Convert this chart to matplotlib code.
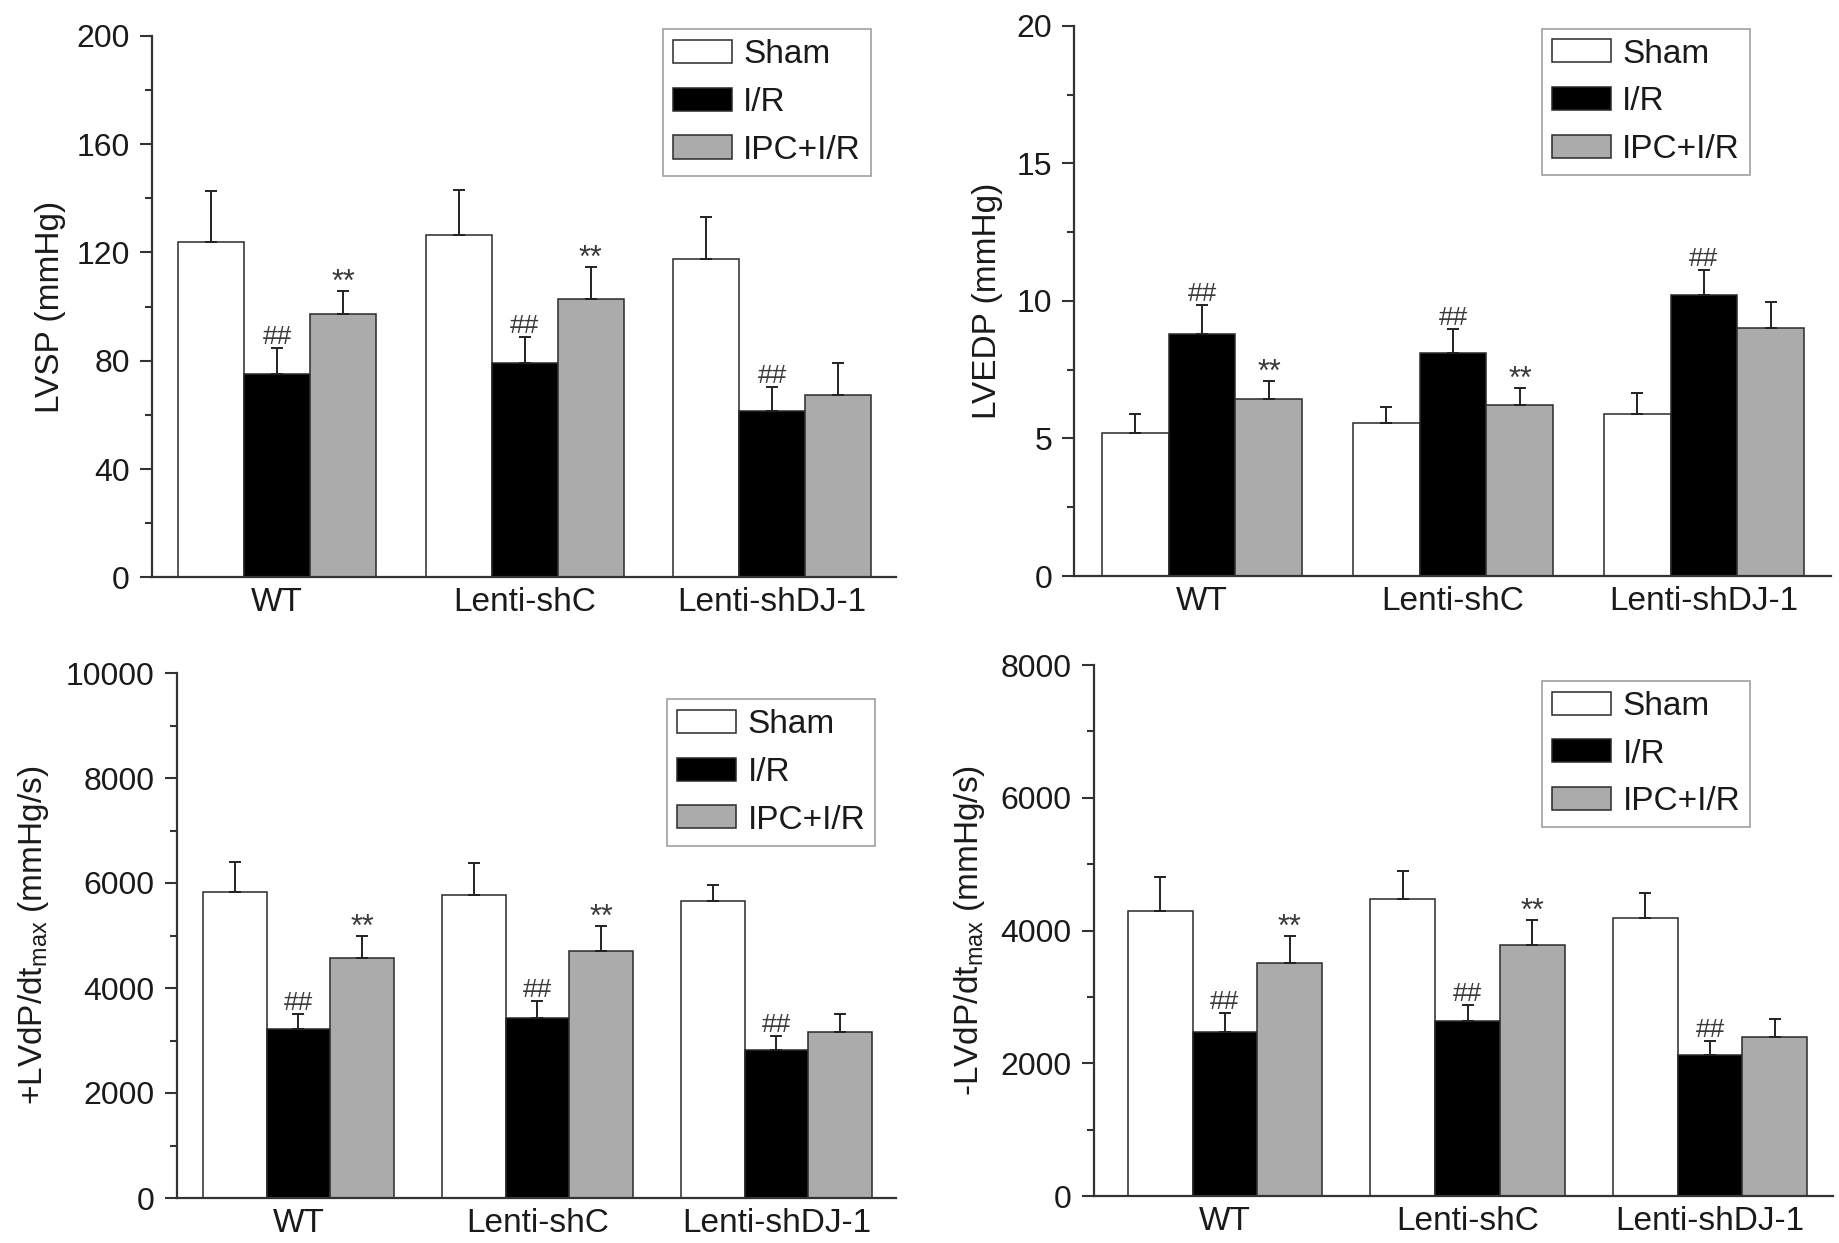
import numpy as np
import matplotlib
matplotlib.use("Agg")
import matplotlib.pyplot as plt
from matplotlib.ticker import MultipleLocator

plt.rcParams['font.family'] = ['Liberation Sans', 'DejaVu Sans']
plt.rcParams['mathtext.fontset'] = 'custom'
plt.rcParams['mathtext.rm'] = 'Liberation Sans'
plt.rcParams['mathtext.it'] = 'Liberation Sans:italic'

groups = ['WT', 'Lenti-shC', 'Lenti-shDJ-1']
series = ['Sham', 'I/R', 'IPC+I/R']

lvsp_sham = [123.7, 126.5, 117.7]
lvsp_ir = [75.0, 79.2, 61.3]
lvsp_ipc = [97.3, 102.9, 67.2]
lvsp_sham_err = [19.1, 16.6, 15.4]
lvsp_ir_err = [9.8, 9.7, 9.1]
lvsp_ipc_err = [8.5, 11.6, 12.0]

lvedp_sham = [5.20, 5.56, 5.88]
lvedp_ir = [8.81, 8.12, 10.22]
lvedp_ipc = [6.43, 6.21, 9.03]
lvedp_sham_err = [0.68, 0.58, 0.76]
lvedp_ir_err = [1.05, 0.86, 0.90]
lvedp_ipc_err = [0.65, 0.61, 0.93]

plus_sham = [5822, 5776, 5654]
plus_ir = [3219, 3425, 2816]
plus_ipc = [4574, 4711, 3166]
plus_sham_err = [571, 601, 313]
plus_ir_err = [282, 319, 266]
plus_ipc_err = [426, 479, 342]

minus_sham = [4301, 4475, 4192]
minus_ir = [2478, 2641, 2123]
minus_ipc = [3507, 3777, 2400]
minus_sham_err = [511, 427, 379]
minus_ir_err = [277, 240, 217]
minus_ipc_err = [415, 379, 271]

# significance marks: '##' over I/R, '**' over IPC+I/R
lvsp_hash = [True, True, True]
lvsp_star = [True, True, False]
lvedp_hash = [True, True, True]
lvedp_star = [True, True, False]
plus_hash = [True, True, True]
plus_star = [True, True, False]
minus_hash = [True, True, True]
minus_star = [True, True, False]

ylabels = ['LVSP (mmHg)', 'LVEDP (mmHg)',
           r'+LVdP/dt$_{\mathrm{max}}$ (mmHg/s)',
           r'-LVdP/dt$_{\mathrm{max}}$ (mmHg/s)']

W, H = 1840, 1243
fig = plt.figure(figsize=(W / 100, H / 100), dpi=100)

def px_axes(left, top, right, bottom):
    return fig.add_axes([left / W, 1 - bottom / H, (right - left) / W, (bottom - top) / H])

colors = ['white', 'black', '#ababab']
edge = '#2a2a2a'

panels = [
    dict(box=(152, 35.8, 896, 577.5),
         data=(lvsp_sham, lvsp_ir, lvsp_ipc), err=(lvsp_sham_err, lvsp_ir_err, lvsp_ipc_err),
         hash=lvsp_hash, star=lvsp_star, ymax=200, major=40, minor=20,
         xlim=(-0.505, 2.50), leg=(0.966, 1.012), ylab_px=66, ylabel=ylabels[0]),
    dict(box=(1074.5, 25.8, 1831, 576),
         data=(lvedp_sham, lvedp_ir, lvedp_ipc), err=(lvedp_sham_err, lvedp_ir_err, lvedp_ipc_err),
         hash=lvedp_hash, star=lvedp_star, ymax=20, major=5, minor=2.5,
         xlim=(-0.508, 2.506), leg=(0.893, 0.995), ylab_px=1003, ylabel=ylabels[1]),
    dict(box=(177, 673, 896, 1198),
         data=(plus_sham, plus_ir, plus_ipc), err=(plus_sham_err, plus_ir_err, plus_ipc_err),
         hash=plus_hash, star=plus_star, ymax=10000, major=2000, minor=1000,
         xlim=(-0.508, 2.50), leg=(0.971, 0.950), ylab_px=51, ylabel=ylabels[2]),
    dict(box=(1094, 665, 1833, 1196),
         data=(minus_sham, minus_ir, minus_ipc), err=(minus_sham_err, minus_ir_err, minus_ipc_err),
         hash=minus_hash, star=minus_star, ymax=8000, major=2000, minor=1000,
         xlim=(-0.54, 2.507), leg=(0.888, 0.970), ylab_px=987, ylabel=ylabels[3]),
]

bw = 0.2667
x = np.arange(len(groups))
offsets = [-bw, 0, bw]

for p in panels:
    l, t, r, b = p['box']
    ax = px_axes(l, t, r, b)
    handles = []
    for k in range(3):
        vals = np.array(p['data'][k], dtype=float)
        errs = np.array(p['err'][k], dtype=float)
        xs = x + offsets[k]
        bars = ax.bar(xs, vals, width=bw, color=colors[k], edgecolor=edge,
                      linewidth=1.1, label=series[k], zorder=2)
        handles.append(bars)
        ax.errorbar(xs, vals, yerr=[np.zeros_like(errs), errs], fmt='none',
                    ecolor='#222222', elinewidth=1.4, capsize=4, capthick=1.4, zorder=3)
        if k == 1:
            for i in range(len(groups)):
                if p['hash'][i]:
                    ax.annotate('##', (xs[i], vals[i] + errs[i]), xytext=(0, 3),
                                textcoords='offset points', ha='center', va='baseline',
                                fontsize=19, color='#3a3a3a')
        if k == 2:
            for i in range(len(groups)):
                if p['star'][i]:
                    ax.annotate('**', (xs[i], vals[i] + errs[i]), xytext=(0, 0),
                                textcoords='offset points', ha='center', va='baseline',
                                fontsize=22, color='#3a3a3a')
    ax.set_xlim(*p['xlim'])
    ax.set_ylim(0, p['ymax'])
    ax.yaxis.set_major_locator(MultipleLocator(p['major']))
    ax.yaxis.set_minor_locator(MultipleLocator(p['minor']))
    ax.set_xticks(x)
    ax.set_xticklabels(groups)
    ax.tick_params(axis='x', length=0, pad=7, labelsize=24, labelcolor='#1a1a1a')
    ax.tick_params(axis='y', which='major', length=9, width=1.5, pad=7,
                   labelsize=23, labelcolor='#1a1a1a', color='#333333')
    ax.tick_params(axis='y', which='minor', length=5, width=1.5, color='#333333')
    for s in ['top', 'right']:
        ax.spines[s].set_visible(False)
    for s in ['left', 'bottom']:
        ax.spines[s].set_linewidth(1.6)
        ax.spines[s].set_color('#333333')
    ax.set_ylabel(p['ylabel'], fontsize=24, color='#1a1a1a')
    ax.yaxis.set_label_coords((p['ylab_px'] - l) / (r - l), 0.5)
    leg = ax.legend(handles=handles, loc='upper right', bbox_to_anchor=p['leg'],
                    borderaxespad=0, fontsize=24, frameon=True, fancybox=False,
                    edgecolor='#888888', handlelength=1.77, handleheight=0.69,
                    handletextpad=0.33, labelspacing=0.5, borderpad=0.3)
    leg.get_frame().set_linewidth(1.2)
    for txt in leg.get_texts():
        txt.set_color('#1a1a1a')

fig.savefig('out.png', dpi=100)
